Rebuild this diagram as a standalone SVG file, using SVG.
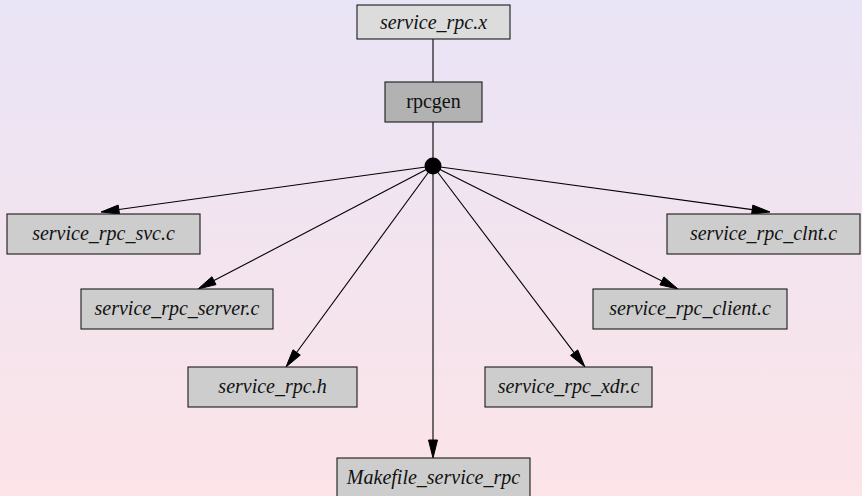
<svg xmlns="http://www.w3.org/2000/svg" width="862" height="496" viewBox="0 0 862 496">
  <defs>
    <linearGradient id="bg" x1="0" y1="0" x2="0" y2="1">
      <stop offset="0" stop-color="#e9e4f6"/>
      <stop offset="1" stop-color="#fce4e8"/>
    </linearGradient>
    <style>
      .box { fill: #cdcdcd; stroke: #1a1a1a; stroke-width: 1.1; }
      .src { fill: #dcdcdc; }
      .tool { fill: #b2b2b2; }
      .lbl { font-family: "Liberation Serif", "Times New Roman", serif; font-size: 20px; font-style: italic; fill: #111; text-anchor: middle; }
      .plain { font-style: normal; }
      .edge { stroke: #000; stroke-width: 1.1; fill: none; }
      .head { fill: #000; stroke: #000; stroke-width: 1; }
    </style>
  </defs>

  <rect width="862" height="496" fill="url(#bg)"/>

  <!-- connectors -->
  <g id="edges">
    <line class="edge" x1="433" y1="39" x2="433" y2="82"/>
    <line class="edge" x1="433" y1="122" x2="433" y2="166"/>
    <line class="edge" x1="433" y1="166" x2="118.8" y2="209.5"/>
    <polygon class="head" points="101,212 118.2,205.1 119.5,214"/>
    <line class="edge" x1="433" y1="166" x2="752.2" y2="209.6"/>
    <polygon class="head" points="770,212 751.6,214 752.8,205.1"/>
    <line class="edge" x1="433" y1="166" x2="214" y2="280.6"/>
    <polygon class="head" points="198,289 211.9,276.7 216,284.6"/>
    <line class="edge" x1="433" y1="166" x2="661.9" y2="280.9"/>
    <polygon class="head" points="678,289 659.9,284.9 663.9,276.9"/>
    <line class="edge" x1="433" y1="166" x2="296.6" y2="352.5"/>
    <polygon class="head" points="286,367 293,349.8 300.3,355.1"/>
    <line class="edge" x1="433" y1="166" x2="574.1" y2="352.6"/>
    <polygon class="head" points="585,367 570.5,355.4 577.7,349.9"/>
    <line class="edge" x1="433" y1="166" x2="433" y2="440"/>
    <polygon class="head" points="433,458 428.5,440 437.5,440"/>
  </g>

  <g id="service_rpc_x">
    <rect class="box src" x="357" y="5" width="153" height="34"/>
    <text class="lbl" x="433.5" y="28.5">service_rpc.x</text>
  </g>
  <g id="rpcgen">
    <rect class="box tool" x="385" y="82" width="97" height="40"/>
    <text class="lbl plain" x="433.5" y="108">rpcgen</text>
  </g>
  <g id="fanout">
    <circle cx="433" cy="166" r="8.5" fill="#000"/>
  </g>
  <g id="service_rpc_svc_c">
    <rect class="box" x="7" y="214" width="193" height="40"/>
    <text class="lbl" x="103.5" y="240">service_rpc_svc.c</text>
  </g>
  <g id="service_rpc_clnt_c">
    <rect class="box" x="667" y="214" width="193" height="40"/>
    <text class="lbl" x="763.5" y="240">service_rpc_clnt.c</text>
  </g>
  <g id="service_rpc_server_c">
    <rect class="box" x="81" y="289" width="192" height="40"/>
    <text class="lbl" x="177" y="315">service_rpc_server.c</text>
  </g>
  <g id="service_rpc_client_c">
    <rect class="box" x="593" y="289" width="194" height="40"/>
    <text class="lbl" x="690" y="315">service_rpc_client.c</text>
  </g>
  <g id="service_rpc_h">
    <rect class="box" x="188" y="367" width="169" height="40"/>
    <text class="lbl" x="272.5" y="393">service_rpc.h</text>
  </g>
  <g id="service_rpc_xdr_c">
    <rect class="box" x="485" y="367" width="167" height="40"/>
    <text class="lbl" x="568.5" y="393">service_rpc_xdr.c</text>
  </g>
  <g id="Makefile_service_rpc">
    <rect class="box" x="337" y="458" width="193" height="40"/>
    <text class="lbl" x="433.5" y="484">Makefile_service_rpc</text>
  </g>
</svg>
